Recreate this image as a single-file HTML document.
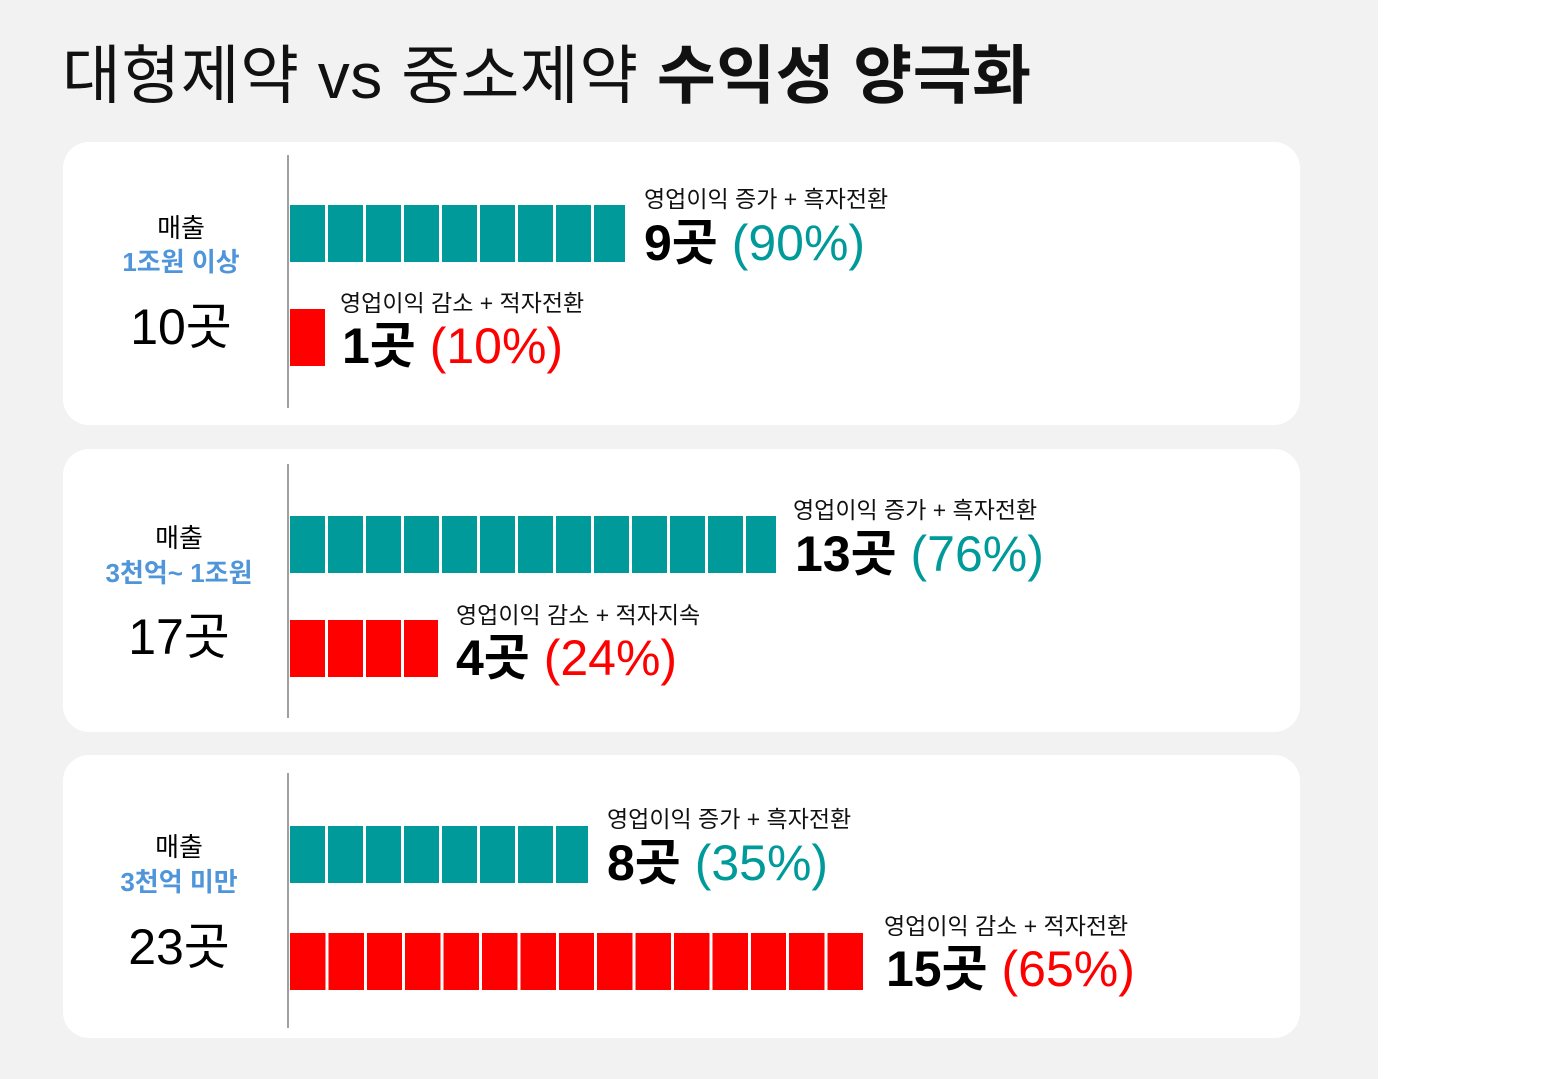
<!DOCTYPE html>
<html><head><meta charset="utf-8"><style>
body{margin:0;width:1545px;height:1079px;background:#fff;position:relative;overflow:hidden;font-family:"Liberation Sans","Noto Sans CJK KR",sans-serif;}
.bg{position:absolute;left:0;top:0;width:1378px;height:1079px;background:#f2f2f2}
.card{position:absolute;left:63px;width:1237px;height:283px;background:#fff;border-radius:26px}
.vl{position:absolute;left:287px;width:2px;background:#a0a0a0}
.t{position:absolute;white-space:nowrap;line-height:1}
.bar{position:absolute;left:290px;height:57px}
.teal{background:repeating-linear-gradient(90deg,#009a9a 0 35px,#fff 35px 38px)}
.red{background:repeating-linear-gradient(90deg,#ff0000 0 35px,#fff 35px 38px)}
.lab{font-size:23px;color:#111}
.big{font-size:50px;font-weight:bold;color:#000}
.big span{font-weight:normal}
.tc{color:#009a9a}.rc{color:#ff0000}
.lc{position:absolute;width:240px;text-align:center;line-height:1;white-space:nowrap}
</style></head><body>
<div class="bg"></div>
<div class="t" style="left:62px;top:44px;font-size:64px;color:#111;letter-spacing:0.5px">대형제약 vs 중소제약 <b>수익성 양극화</b></div>

<div class="card" style="top:142px"></div>
<div class="card" style="top:449px"></div>
<div class="card" style="top:755px"></div>

<div class="vl" style="top:155px;height:253px"></div>
<div class="vl" style="top:464px;height:254px"></div>
<div class="vl" style="top:773px;height:255px"></div>

<!-- card1 -->
<div class="lc" style="left:61px;top:215px;font-size:26px">매출</div>
<div class="lc" style="left:61px;top:249px;font-size:26px;font-weight:bold;color:#4f95da">1조원 이상</div>
<div class="lc" style="left:61px;top:302px;font-size:50px">10곳</div>
<div class="bar teal" style="top:205px;width:335px"></div>
<div class="t lab" style="left:644px;top:188px">영업이익 증가 + 흑자전환</div>
<div class="t big" style="left:644px;top:218px">9곳 <span class="tc">(90%)</span></div>
<div class="bar red" style="top:309px;width:35px"></div>
<div class="t lab" style="left:340px;top:292px">영업이익 감소 + 적자전환</div>
<div class="t big" style="left:342px;top:321px">1곳 <span class="rc">(10%)</span></div>

<!-- card2 -->
<div class="lc" style="left:59px;top:525px;font-size:26px">매출</div>
<div class="lc" style="left:59px;top:560px;font-size:26px;font-weight:bold;color:#4f95da">3천억~ 1조원</div>
<div class="lc" style="left:59px;top:612px;font-size:50px">17곳</div>
<div class="bar teal" style="top:516px;width:486px"></div>
<div class="t lab" style="left:793px;top:499px">영업이익 증가 + 흑자전환</div>
<div class="t big" style="left:795px;top:529px">13곳 <span class="tc">(76%)</span></div>
<div class="bar red" style="top:620px;width:148px"></div>
<div class="t lab" style="left:456px;top:604px">영업이익 감소 + 적자지속</div>
<div class="t big" style="left:456px;top:633px">4곳 <span class="rc">(24%)</span></div>

<!-- card3 -->
<div class="lc" style="left:59px;top:834px;font-size:26px">매출</div>
<div class="lc" style="left:59px;top:869px;font-size:26px;font-weight:bold;color:#4f95da">3천억 미만</div>
<div class="lc" style="left:59px;top:922px;font-size:50px">23곳</div>
<div class="bar teal" style="top:826px;width:298px"></div>
<div class="t lab" style="left:607px;top:808px">영업이익 증가 + 흑자전환</div>
<div class="t big" style="left:607px;top:838px">8곳 <span class="tc">(35%)</span></div>
<div class="bar red" style="top:933px;width:575px;background:repeating-linear-gradient(90deg,#ff0000 0 35.4px,#fff 35.4px 38.4px)"></div>
<div class="t lab" style="left:884px;top:915px">영업이익 감소 + 적자전환</div>
<div class="t big" style="left:886px;top:944px">15곳 <span class="rc">(65%)</span></div>
</body></html>
